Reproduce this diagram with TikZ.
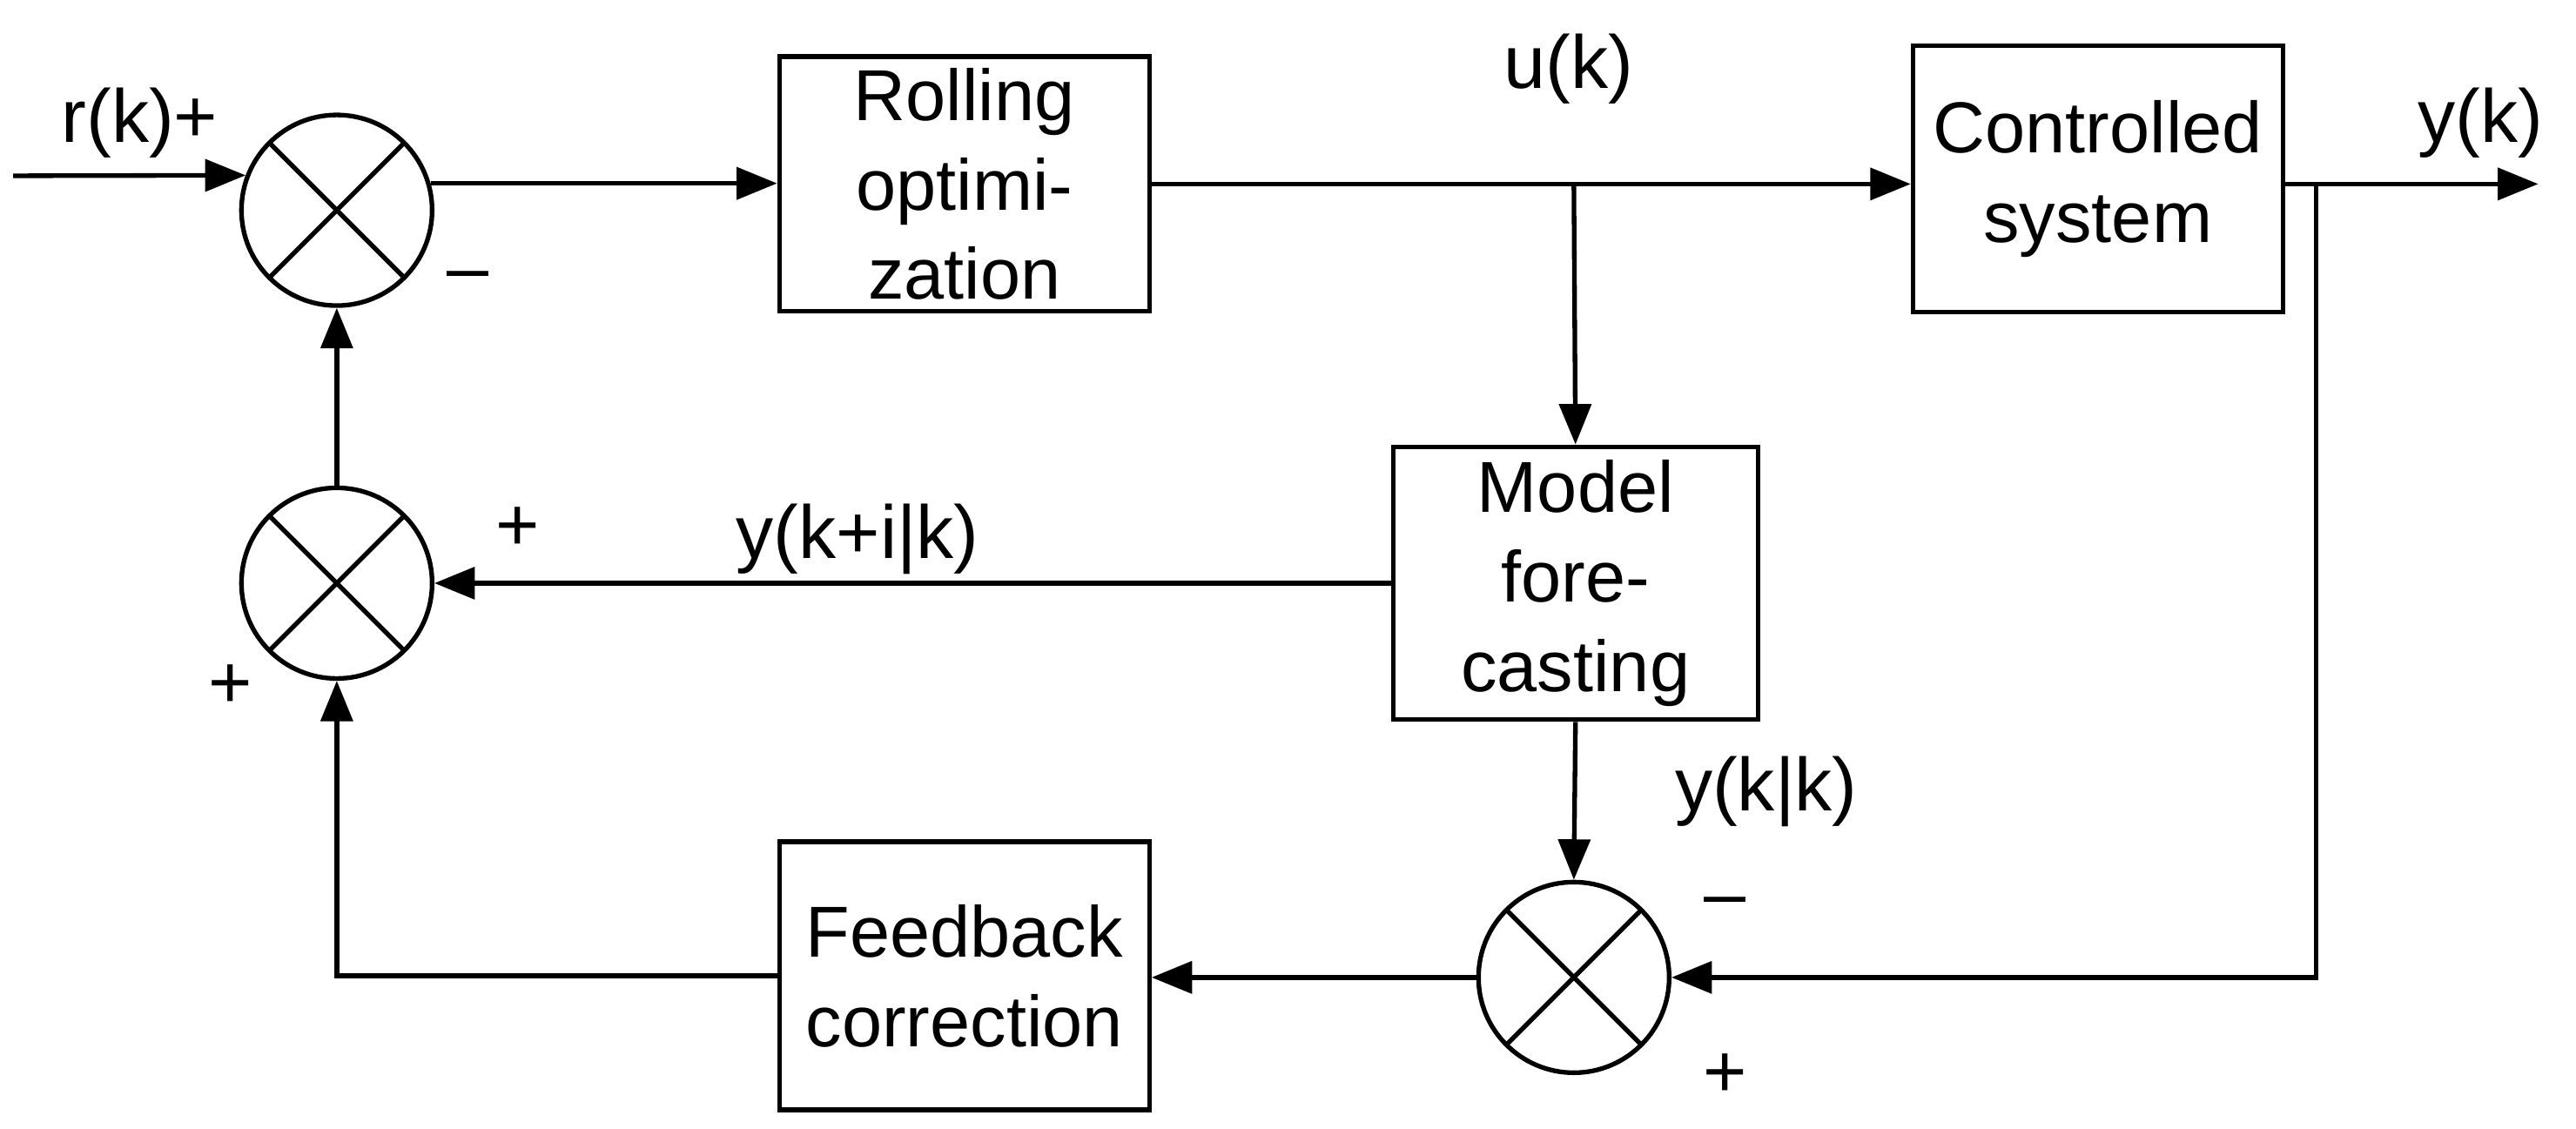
\documentclass[tikz,border=0pt]{standalone}
\usepackage{fontspec}
\setmainfont{Liberation Sans}
\usetikzlibrary{arrows.meta}
\begin{document}
\begin{tikzpicture}[x=0.01cm,y=-0.01cm,line width=0.8pt,
  box/.style={draw,align=center,font=\fontsize{12.5}{15.5}\selectfont,inner sep=0pt},
  sum/.style={draw,circle,minimum size=1.16cm,inner sep=0pt,
    path picture={\draw ([shift={(45:0.58cm)}]path picture bounding box.center) -- ([shift={(225:0.58cm)}]path picture bounding box.center);
                  \draw ([shift={(135:0.58cm)}]path picture bounding box.center) -- ([shift={(315:0.58cm)}]path picture bounding box.center);}},
  arr/.style={-{Triangle[length=7pt,width=5.5pt]}},
  lab/.style={font=\fontsize{13}{16}\selectfont,inner sep=0pt}]
\useasboundingbox (0,0) rectangle (1568,687);
\node[sum] (s1) at (205,128) {};
\node[sum] (s2) at (205,355) {};
\node[sum] (s3) at (958,595) {};
\node[box,minimum width=2.25cm,minimum height=1.55cm] (ro) at (587,112) {Rolling\\optimi-\\zation};
\node[box,minimum width=2.25cm,minimum height=1.62cm] (cs) at (1277,109) {Controlled\\system};
\node[box,minimum width=2.22cm,minimum height=1.66cm] (mf) at (959,355) {Model\\fore-\\casting};
\node[box,minimum width=2.25cm,minimum height=1.63cm] (fc) at (587,594) {Feedback\\correction};
\coordinate (in) at (8,107);
\coordinate (out) at (1545,112);
\coordinate (b1) at (958,112);
\coordinate (b2) at (1410,112);
\coordinate (c1) at (1410,595);
\coordinate (c2) at (205,594);
\draw[arr] (in) -- (s1.159);
\draw[arr] (s1.16) -- (ro.west |- s1.16);
\draw[arr] (ro.east) -- (cs.west |- ro.east);
\draw[arr] (cs.east |- out) -- (out);
\draw[arr] (b1) -- (mf.north);
\draw[arr] (b2) -- (c1) -- (s3.east);
\draw[arr] (mf.south) -- (s3.north);
\draw[arr] (s3.west) -- (fc.east |- s3.west);
\draw[arr] (fc.west) -- (c2) -- (s2.south);
\draw[arr] (mf.west) -- (s2.east);
\draw[arr] (s2.north) -- (s1.south);
\node[lab] (l1) at (85,75) {r(k)+};
\node[lab] (l2) at (285,172) {--};
\node[lab] (l3) at (955,42) {u(k)};
\node[lab] (l4) at (1510,75) {y(k)};
\node[lab] (l5) at (315,322) {+};
\node[lab] (l6) at (522,328) {y(k+i|k)};
\node[lab] (l7) at (140,418) {+};
\node[lab] (l8) at (1075,482) {y(k|k)};
\node[lab] (l9) at (1050,553) {--};
\node[lab] (l10) at (1050,655) {+};
\end{tikzpicture}
\end{document}
